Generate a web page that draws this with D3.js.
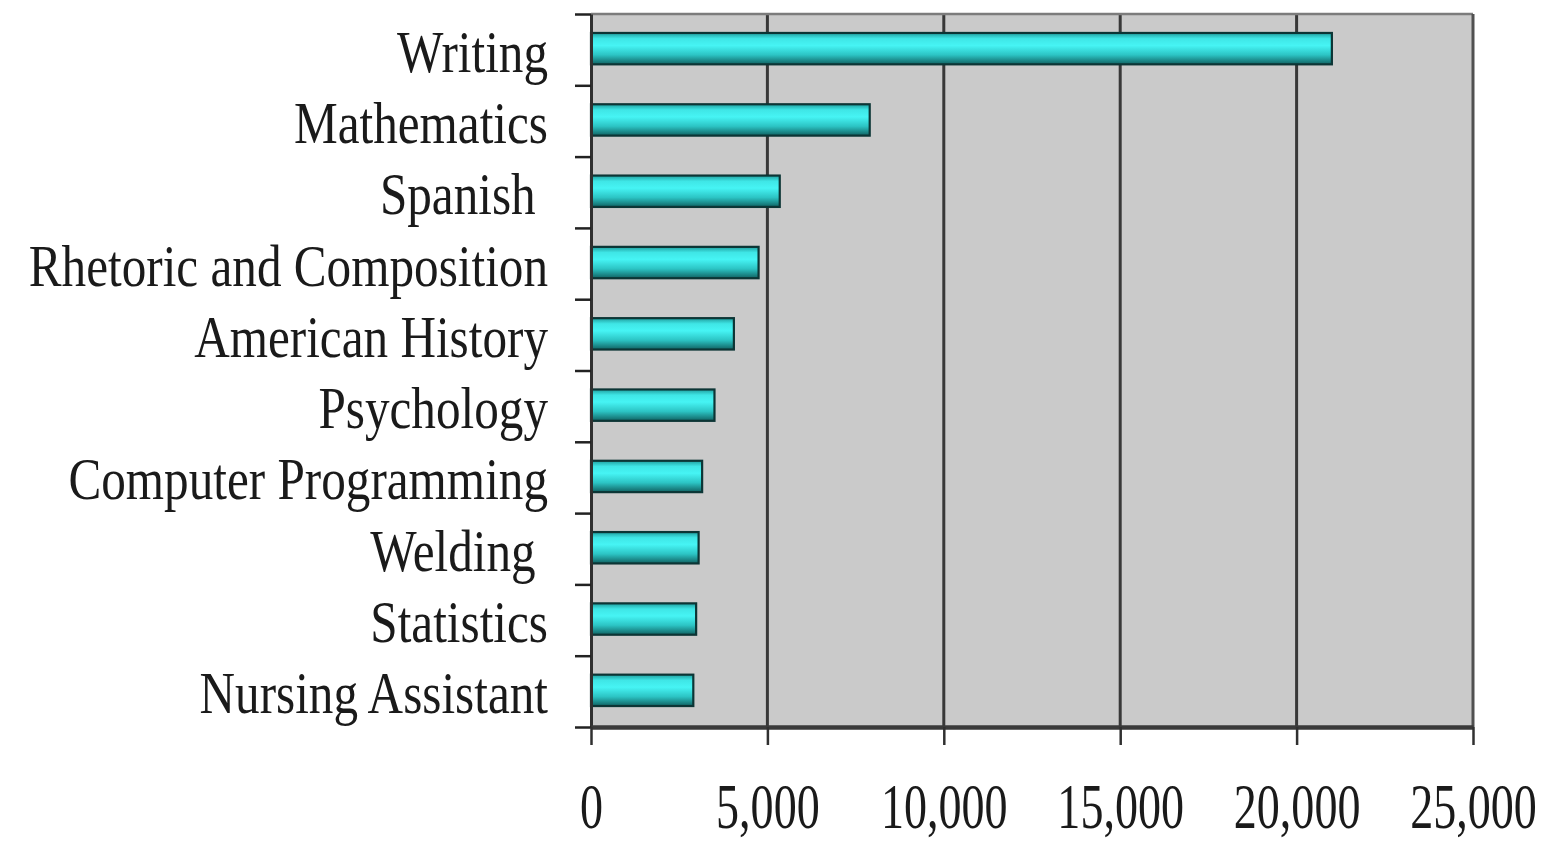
<!DOCTYPE html>
<html>
<head>
<meta charset="utf-8">
<script src="https://cdn.jsdelivr.net/npm/d3@7"></script>
<style>
  html, body { margin: 0; padding: 0; background: #fff; }
  svg { display: block; }
  text { font-family: "Liberation Serif", "Times New Roman", serif; fill: #1a1a1a; white-space: pre; }
</style>
</head>
<body>
<svg id="chart" width="1548" height="842"></svg>
<script>
// categories top to bottom (trailing spaces as in the original labels)
var categories = ["Writing", "Mathematics", "Spanish ", "Rhetoric and Composition", "American History",
                  "Psychology", "Computer Programming", "Welding ", "Statistics", "Nursing Assistant"];
var values = [21000, 7900, 5350, 4750, 4050, 3500, 3150, 3050, 2980, 2900];
var xTicks = [0, 5000, 10000, 15000, 20000, 25000];

var chart = {

    margin: {top: 14, left: 591, right: 75, bottom: 115},

    draw: function () {
        var svg = d3.select("#chart");
        var W = 1548, H = 842;
        var m = chart.margin;
        var width = W - m.left - m.right,
            height = H - m.top - m.bottom;

        var x = d3.scaleLinear().domain([0, 25000]).range([0, width]);
        var y = d3.scaleBand().domain(categories).range([0, height])
            .paddingInner(0.56).paddingOuter(0.28);
        // tick positions between categories
        var yEdge = d3.scaleLinear().domain([0, categories.length]).range([0, height]);

        // bar gradient
        var grad = svg.append("defs").append("linearGradient")
            .attr("id", "barGrad").attr("x1", 0).attr("y1", 0).attr("x2", 0).attr("y2", 1);
        [["0%", "#1f9e9e"], ["18%", "#3fe6e6"], ["40%", "#46f4f4"], ["70%", "#2cc4c4"], ["100%", "#106262"]]
            .forEach(function (s) { grad.append("stop").attr("offset", s[0]).attr("stop-color", s[1]); });

        var g = svg.append("g").attr("transform", "translate(" + m.left + "," + m.top + ")");

        // plot background
        g.append("rect").attr("width", width).attr("height", height).attr("fill", "#cacaca");

        // vertical gridlines
        g.selectAll(".grid").data(xTicks.slice(1, -1)).enter().append("line")
            .attr("class", "grid")
            .attr("x1", function (d) { return x(d); }).attr("x2", function (d) { return x(d); })
            .attr("y1", 0).attr("y2", height)
            .attr("stroke", "#383838").attr("stroke-width", 3);

        // frame: top and right
        g.append("line").attr("x1", 0).attr("x2", width).attr("y1", 0).attr("y2", 0)
            .attr("stroke", "#7c7c7c").attr("stroke-width", 2.5);
        g.append("line").attr("x1", width).attr("x2", width).attr("y1", 0).attr("y2", height)
            .attr("stroke", "#505050").attr("stroke-width", 3);

        // bars
        g.selectAll(".bar").data(categories).enter().append("rect")
            .attr("class", "bar")
            .attr("x", 0)
            .attr("y", function (d) { return y(d) - 1; })
            .attr("width", function (d, i) { return x(values[i]); })
            .attr("height", y.bandwidth())
            .attr("fill", "url(#barGrad)")
            .attr("stroke", "#0c3535").attr("stroke-width", 2.2);

        // y axis (ticks between categories)
        var yAxis = g.append("g").attr("class", "y_axis")
            .call(d3.axisLeft(yEdge).tickValues(d3.range(0, categories.length + 1))
                .tickFormat("").tickSize(16).tickSizeOuter(0));
        yAxis.select(".domain").attr("stroke", "#303030").attr("stroke-width", 3);
        yAxis.selectAll(".tick line").attr("stroke", "#222").attr("stroke-width", 2.5);

        // category labels
        g.selectAll(".cat").data(categories).enter().append("text")
            .attr("class", "cat")
            .attr("text-anchor", "end")
            .attr("font-size", 60)
            .attr("transform", function (d) {
                return "translate(-43," + (y(d) + y.bandwidth() / 2 + 22) + ") scale(0.82,1)";
            })
            .text(function (d) { return d; });

        // x axis
        var xAxis = g.append("g").attr("class", "x_axis")
            .attr("transform", "translate(0," + height + ")")
            .call(d3.axisBottom(x).tickValues(xTicks).tickFormat(d3.format(","))
                .tickSize(18).tickSizeOuter(0));
        xAxis.select(".domain").attr("stroke", "#3a3a3a").attr("stroke-width", 4.5);
        xAxis.selectAll(".tick line").attr("stroke", "#303030").attr("stroke-width", 2.5);
        xAxis.selectAll(".tick text")
            .attr("y", 0).attr("dy", 0)
            .attr("font-size", 64)
            .attr("fill", "#1a1a1a")
            .attr("font-family", "Liberation Serif")
            .attr("transform", "translate(0,101) scale(0.72,1)");
    }
};

chart.draw();
</script>
</body>
</html>
